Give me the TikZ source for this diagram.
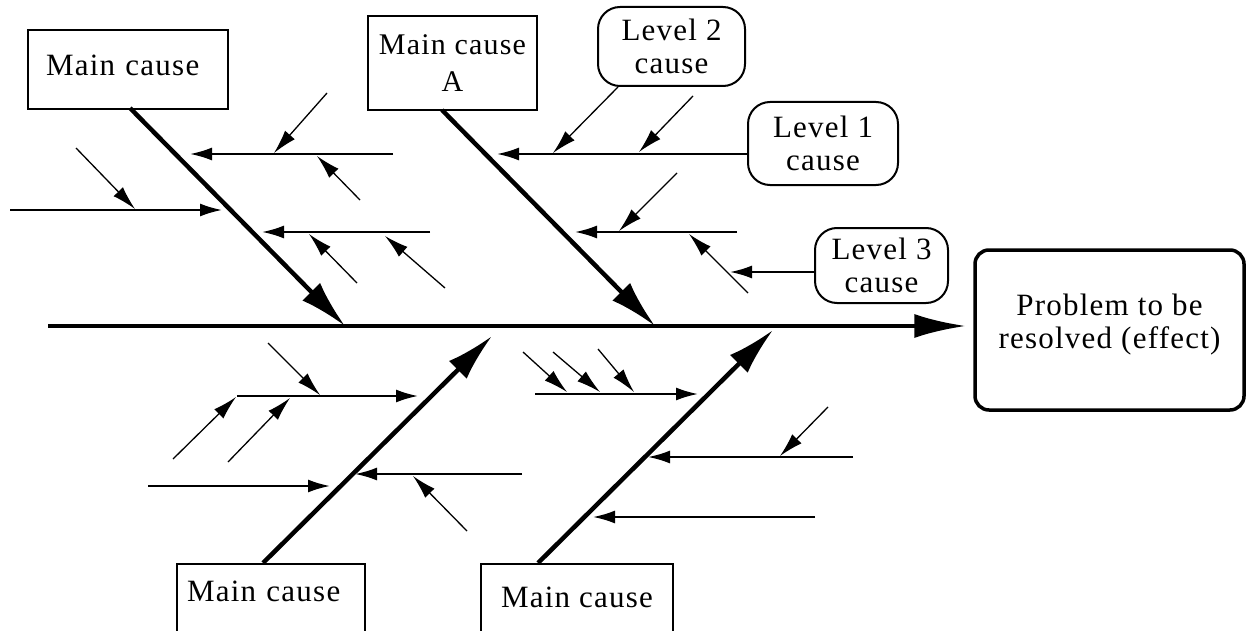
\documentclass[tikz,border=0pt]{standalone}
\usepackage{fontspec}
\setmainfont[LetterSpace=4]{Liberation Serif}
\usetikzlibrary{arrows.meta}
\begin{document}
\begin{tikzpicture}[x=1pt,y=-1pt,
  box/.style={draw, line width=2pt, inner sep=0pt, font=\fontsize{31}{33}\selectfont, align=center},
  rbox/.style={box, rounded corners=22pt},
  bone/.style={line width=4.5pt, -{Latex[length=48pt,width=25pt]}},
  lvl/.style={line width=2pt, -{Latex[length=22pt,width=13pt]}},
  sub/.style={line width=1.3pt, -{Latex[length=24pt,width=13pt]}}]
\useasboundingbox (0,0) rectangle (1246,631);
\fill[white] (0,0) rectangle (1246,631);
\clip (0,0) rectangle (1246,631);

% boxes
\node[box, anchor=north west, inner xsep=18pt, text width=164pt, align=left, text height=46pt, text depth=33pt] (mc1) at (27,29) {Main cause};
\node[box, minimum width=169pt, minimum height=94pt, font=\fontsize{30}{37}\selectfont] (mcA) at (452.5,63) {Main cause\\A};
\node[rbox, minimum width=147pt, minimum height=79pt] (l2) at (671.5,46.5) {Level 2\\cause};
\node[rbox, minimum width=150pt, minimum height=83pt] (l1) at (823,143.5) {Level 1\\cause};
\node[rbox, minimum width=133pt, minimum height=75pt] (l3) at (881.5,265.5) {Level 3\\cause};
\node[rbox, rounded corners=14pt, line width=3.5pt, minimum width=269pt, minimum height=160pt] (eff) at (1109.5,330) {Problem to be\\resolved (effect)\\[-16pt]};
\node[box, anchor=north, inner xsep=10pt, text width=168pt, align=left, text height=37pt, text depth=40pt] (mc3) at (271,563) {Main cause};
\node[box, anchor=north, minimum width=192pt, text height=43pt, text depth=40pt] (mc4) at (577,563) {Main cause};

% spine
\coordinate (sp) at (48,326);
\draw[line width=4.5pt, -{Latex[length=52pt,width=24pt]}, shorten >=7pt] (sp) -- (sp -| eff.west);

% main bones
\coordinate (b1s) at (130,108); \coordinate (b1e) at (345,326);
\coordinate (b2s) at (442,110); \coordinate (b2e) at (655,326);
\coordinate (b3s) at (263,563); \coordinate (b3e) at (492,336);
\coordinate (b4s) at (538,563); \coordinate (b4e) at (773,330);
\draw[bone] (b1s) -- (b1e);
\draw[bone] (b2s) -- (b2e);
\draw[bone] (b3s) -- (b3e);
\draw[bone] (b4s) -- (b4e);

% top-left branch
\coordinate (p1a) at (393,154); \coordinate (p1b) at (190,154);
\coordinate (p2a) at (10,210);  \coordinate (p2b) at (222,210);
\coordinate (p3a) at (430,232); \coordinate (p3b) at (262,232);
\draw[lvl] (p1a) -- (p1b);
\draw[lvl] (p2a) -- (p2b);
\draw[lvl] (p3a) -- (p3b);
\coordinate (q1a) at (327,93);  \coordinate (q1b) at (274,153);
\coordinate (q2a) at (360,200); \coordinate (q2b) at (317,156);
\coordinate (q3a) at (76,148);  \coordinate (q3b) at (135,209);
\coordinate (q4a) at (357,283); \coordinate (q4b) at (309,234);
\coordinate (q5a) at (445,288); \coordinate (q5b) at (385,236);
\draw[sub] (q1a) -- (q1b);
\draw[sub] (q2a) -- (q2b);
\draw[sub] (q3a) -- (q3b);
\draw[sub] (q4a) -- (q4b);
\draw[sub] (q5a) -- (q5b);

% branch A
\coordinate (a1t) at (497,154);
\draw[lvl] (l1.west |- a1t) -- (a1t);
\coordinate (a2a) at (737,232); \coordinate (a2b) at (575,232);
\draw[lvl] (a2a) -- (a2b);
\coordinate (a3t) at (730,272);
\draw[lvl] (l3.west |- a3t) -- (a3t);
\coordinate (r1a) at (618,87);  \coordinate (r1b) at (553,153);
\coordinate (r2a) at (693,96);  \coordinate (r2b) at (639,152);
\coordinate (r3a) at (677,173); \coordinate (r3b) at (619,231);
\coordinate (r4a) at (748,293); \coordinate (r4b) at (689,234);
\draw[sub] (r1a) -- (r1b);
\draw[sub] (r2a) -- (r2b);
\draw[sub] (r3a) -- (r3b);
\draw[sub] (r4a) -- (r4b);

% bottom-left branch
\coordinate (s1a) at (237,396); \coordinate (s1b) at (418,396);
\coordinate (s2a) at (148,486); \coordinate (s2b) at (330,486);
\coordinate (s3a) at (522,474); \coordinate (s3b) at (355,474);
\draw[lvl] (s1a) -- (s1b);
\draw[lvl] (s2a) -- (s2b);
\draw[lvl] (s3a) -- (s3b);
\coordinate (t1a) at (268,343); \coordinate (t1b) at (320,395);
\coordinate (t2a) at (173,459); \coordinate (t2b) at (236,397);
\coordinate (t3a) at (228,462); \coordinate (t3b) at (290,398);
\coordinate (t4a) at (467,531); \coordinate (t4b) at (413,476);
\draw[sub] (t1a) -- (t1b);
\draw[sub] (t2a) -- (t2b);
\draw[sub] (t3a) -- (t3b);
\draw[sub] (t4a) -- (t4b);

% bottom-right branch
\coordinate (u1a) at (535,394); \coordinate (u1b) at (698,394);
\coordinate (u2a) at (853,457); \coordinate (u2b) at (648,457);
\coordinate (u3a) at (815,517); \coordinate (u3b) at (593,517);
\draw[lvl] (u1a) -- (u1b);
\draw[lvl] (u2a) -- (u2b);
\draw[lvl] (u3a) -- (u3b);
\coordinate (v1a) at (523,352); \coordinate (v1b) at (567,392);
\coordinate (v2a) at (553,352); \coordinate (v2b) at (600,392);
\coordinate (v3a) at (598,349); \coordinate (v3b) at (634,392);
\coordinate (v4a) at (828,407); \coordinate (v4b) at (780,456);
\draw[sub] (v1a) -- (v1b);
\draw[sub] (v2a) -- (v2b);
\draw[sub] (v3a) -- (v3b);
\draw[sub] (v4a) -- (v4b);
\end{tikzpicture}
\end{document}
